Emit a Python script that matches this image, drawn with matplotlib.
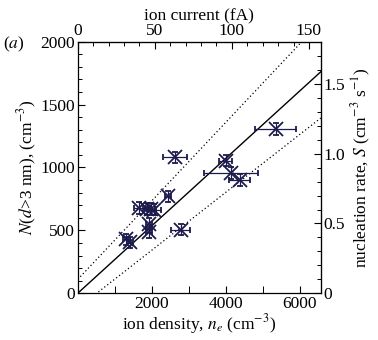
import matplotlib
matplotlib.use('Agg')
import matplotlib.pyplot as plt
from matplotlib.ticker import MultipleLocator

plt.rcParams['font.family'] = ['Liberation Serif', 'DejaVu Serif']
plt.rcParams['mathtext.fontset'] = 'stix'
plt.rcParams['font.size'] = 12.5

# ion density (cm^-3), N(d>3nm) (cm^-3), x error
ion_density = [5350, 2630, 4000, 4140, 4380, 2440, 1660, 1860, 1990, 2070,
               1920, 1920, 2780, 1310, 1420]
particle_conc = [1305, 1080, 1055, 955, 900, 770, 678, 670, 670, 665,
                 553, 485, 505, 428, 405]
density_err = [560, 320, 180, 720, 280, 90, 150, 100, 120, 180,
               80, 80, 250, 80, 80]
conc_err = [45] * len(ion_density)

fit_slope = 0.268
upper_icpt, upper_slope = 110, 0.312
lower_icpt, lower_slope = -118, 0.23

fa_per_density = 0.024   # ion current (fA) per cm^-3
s_per_conc = 1 / 1110.0  # nucleation rate per cm^-3

xmax = 6570
ymax = 2000

fig = plt.figure(figsize=(3.78, 3.40), dpi=100)
ax = fig.add_axes([0.2056, 0.1374, 0.643, 0.74])

xs = [0, xmax]
ax.plot(xs, [fit_slope * x for x in xs], color='black', lw=1.0)
ax.plot(xs, [upper_icpt + upper_slope * x for x in xs], color='black', lw=0.9, ls=(0, (1.0, 2.0)))
ax.plot(xs, [lower_icpt + lower_slope * x for x in xs], color='black', lw=0.9, ls=(0, (1.0, 2.0)))

ax.errorbar(ion_density, particle_conc, xerr=density_err, yerr=conc_err,
            fmt='x', color='#1c1a4c', ms=10, mew=1.3, elinewidth=0.9,
            capsize=2.5, capthick=0.9, ecolor='#1c1a4c')

ax.set_xlim(0, xmax)
ax.set_ylim(0, ymax)
ax.set_xticks([2000, 4000, 6000])
ax.xaxis.set_minor_locator(MultipleLocator(1000))
ax.set_yticks([0, 500, 1000, 1500, 2000])
ax.yaxis.set_minor_locator(MultipleLocator(100))
ax.tick_params(which='both', direction='in', top=False, right=False)
ax.tick_params(which='major', length=5, width=0.8, pad=2)
ax.tick_params(which='minor', length=3, width=0.7)
ax.tick_params(axis='x', which='minor', length=5)
for s in ax.spines.values():
    s.set_linewidth(0.9)

ax.set_xlabel('ion density, $n_e$ (cm$^{-3}$)', labelpad=0)
ax.set_ylabel('$N$($d$>3 nm), (cm$^{-3}$)', labelpad=1)

top = ax.secondary_xaxis('top', functions=(lambda x: x * fa_per_density,
                                           lambda x: x / fa_per_density))
top.set_xticks([0, 50, 100, 150])
top.xaxis.set_minor_locator(MultipleLocator(10))
top.tick_params(which='both', direction='in')
top.tick_params(which='major', length=5, width=0.8, pad=2)
top.tick_params(which='minor', length=3, width=0.7)
top.set_xlabel('ion current (fA)', labelpad=2)

right = ax.secondary_yaxis('right', functions=(lambda y: y * s_per_conc,
                                               lambda y: y / s_per_conc))
right.set_yticks([0, 0.5, 1.0, 1.5])
right.set_yticklabels(['0', '0.5', '1.0', '1.5'])
right.yaxis.set_minor_locator(MultipleLocator(0.1))
right.tick_params(which='both', direction='in')
right.tick_params(which='major', length=5, width=0.8, pad=2)
right.tick_params(which='minor', length=3, width=0.7)
right.set_ylabel('nucleation rate, $S$ (cm$^{-3}$ s$^{-1}$)', labelpad=3)

fig.text(0.037, 0.868, '($a$)', ha='center', va='center')

fig.savefig('out.png', dpi=100)
